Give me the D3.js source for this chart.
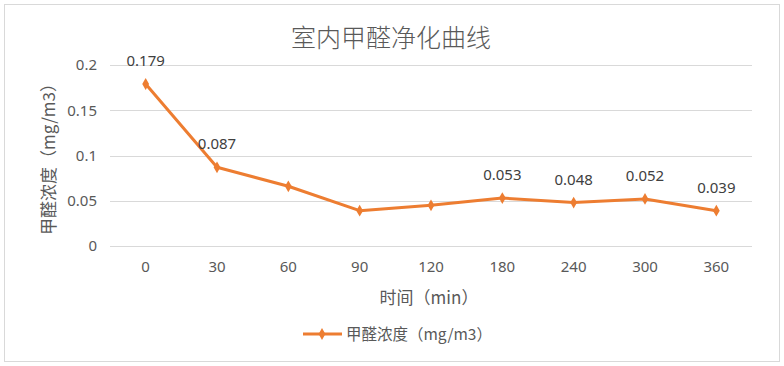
<!DOCTYPE html>
<html><head><meta charset="utf-8">
<script src="https://cdn.jsdelivr.net/npm/d3@7"></script>
<style>body{margin:0;background:#fff;}svg{display:block;font-family:"Noto Sans CJK SC","Noto Sans",sans-serif;}</style>
</head><body>
<script>
const categories = ["0","30","60","90","120","180","240","300","360"];
const values = [0.179,0.087,0.066,0.039,0.045,0.053,0.048,0.052,0.039];
const labelShown = [true,true,false,false,false,true,true,true,true];
const yTicks = [0,0.05,0.1,0.15,0.2];
const title = "室内甲醛净化曲线";
const xTitle = "时间（min）";
const yTitle = "甲醛浓度（mg/m3）";
const seriesName = "甲醛浓度（mg/m3）";

(function(){
const W=784,H=366;
const svg=d3.select("body").append("svg").attr("width",W).attr("height",H);
svg.append("rect").attr("x",4.5).attr("y",4.5).attr("width",775).attr("height",357).attr("fill","#fff").attr("stroke","#d9d9d9");
const pL=110,pR=752,pT=65,pB=246;
const x=d3.scaleBand().domain(categories).range([pL,pR]);
const y=d3.scaleLinear().domain([0,0.2]).range([pB,pT]);
const color="#ED7D31";
const numFont="'Noto Sans','Noto Sans CJK SC',sans-serif";
svg.append("g").selectAll("line").data(yTicks).join("line")
 .attr("x1",pL).attr("x2",pR).attr("y1",d=>Math.round(y(d))+0.5).attr("y2",d=>Math.round(y(d))+0.5)
 .attr("stroke","#d9d9d9").attr("stroke-width",1);
const yAxis=d3.axisLeft(y).tickValues(yTicks).tickSize(0).tickPadding(13).tickFormat(d=>String(d));
const gy=svg.append("g").attr("transform",`translate(${pL},0)`).call(yAxis);
gy.select(".domain").remove();
gy.selectAll("text").attr("fill","#595959").style("font-size","15px").style("font-family",numFont);
const xAxis=d3.axisBottom(x).tickSize(0).tickPadding(15);
const gx=svg.append("g").attr("transform",`translate(0,${pB})`).call(xAxis);
gx.select(".domain").remove();
gx.selectAll("text").attr("fill","#595959").style("font-size","15px").style("font-family",numFont);
const cx=d=>x(d)+x.bandwidth()/2;
const data=categories.map((c,i)=>({c,v:values[i],s:labelShown[i]}));
svg.append("path").datum(data).attr("fill","none").attr("stroke",color).attr("stroke-width",3).attr("stroke-linejoin","round")
 .attr("d",d3.line().x(d=>cx(d.c)).y(d=>y(d.v)));
const diamond=d3.symbol().type(d3.symbolDiamond).size(40);
svg.append("g").selectAll("path").data(data).join("path").attr("d",diamond)
 .attr("transform",d=>`translate(${cx(d.c)},${y(d.v)})`).attr("fill",color);
svg.append("g").selectAll("text").data(data.filter(d=>d.s)).join("text")
 .attr("x",d=>cx(d.c)).attr("y",d=>y(d.v)-18).attr("text-anchor","middle")
 .attr("fill","#404040").style("font-size","15px").style("font-family",numFont).text(d=>d.v.toFixed(3));
svg.append("text").attr("x",391).attr("y",47).attr("text-anchor","middle").attr("fill","#595959")
 .style("font-size","25px").style("font-weight","300").text(title);
svg.append("text").attr("x",429).attr("y",304).attr("text-anchor","middle").attr("fill","#595959")
 .style("font-size","17px").text(xTitle);
svg.append("text").attr("transform","translate(55,155) rotate(-90)").attr("text-anchor","middle").attr("fill","#595959")
 .style("font-size","17px").text(yTitle);
const lg=svg.append("g");
lg.append("line").attr("x1",303).attr("x2",342).attr("y1",334).attr("y2",334).attr("stroke",color).attr("stroke-width",3);
lg.append("path").attr("d",diamond).attr("transform","translate(322,334)").attr("fill",color);
lg.append("text").attr("x",346).attr("y",340).attr("fill","#595959").style("font-size","15.5px").text(seriesName);
})();
</script>
</body></html>
